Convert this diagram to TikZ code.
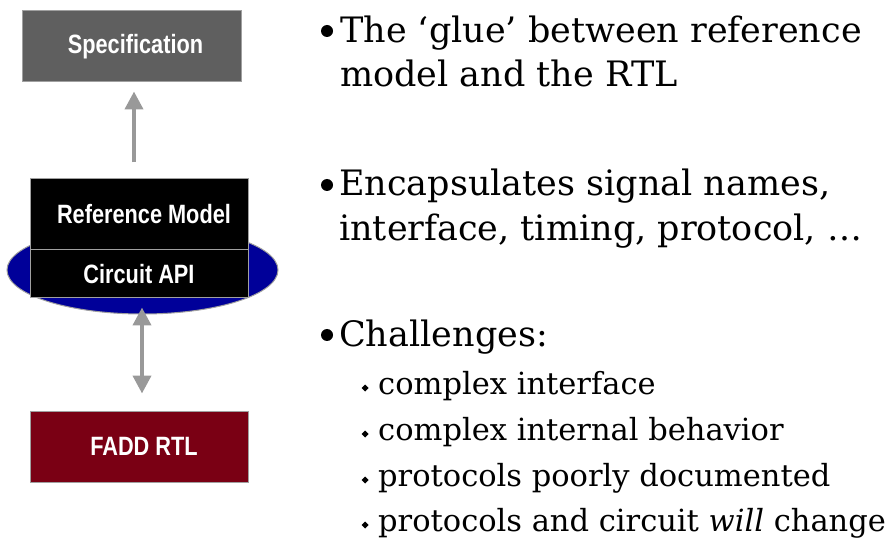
\documentclass[tikz,border=0pt]{standalone}
\usepackage{fontspec}
\setmainfont{DejaVu Serif}
\newfontfamily\boxfont[FakeStretch=0.82]{Liberation Sans}
\usetikzlibrary{arrows.meta,shapes.geometric}

\definecolor{specgray}{HTML}{5F5F5F}
\definecolor{edgegray}{HTML}{A0A0A0}
\definecolor{arrowgray}{HTML}{999999}
\definecolor{apiblue}{HTML}{000099}
\definecolor{rtlred}{HTML}{7A0014}

\begin{document}
\begin{tikzpicture}[x=1pt,y=-1pt,
  blk/.style={draw=edgegray, line width=1pt, inner sep=0pt, text=white,
    font=\boxfont\bfseries\fontsize{26.5}{30}\selectfont},
  garrow/.style={draw=arrowgray, line width=4pt},
  mainline/.style={anchor=base west, inner sep=0pt, font=\fontsize{35}{40}\selectfont},
  subline/.style={anchor=base west, inner sep=0pt, font=\fontsize{30.5}{36}\selectfont},
  dot/.style={fill=black},
]
\useasboundingbox (0,0) rectangle (895,540);

% left column: the verification stack
\node[blk, fill=specgray, minimum width=219pt, minimum height=71pt] (spec) at (131.5,46.5) {\hspace*{8pt}Specification};

\node[ellipse, draw=edgegray, line width=1pt, fill=apiblue, inner sep=0pt,
      minimum width=271pt, minimum height=88pt] (bus) at (142.5,270) {};

\node[blk, fill=black, minimum width=218pt, minimum height=71pt] (refm) at (139,214.5) {\hspace*{10pt}Reference Model};
\node[blk, fill=black, minimum width=218pt, minimum height=48pt] (api) at (139,274) {Circuit API};

\node[blk, fill=rtlred, minimum width=218pt, minimum height=71pt] (rtl) at (139,446.5) {\hspace*{10pt}FADD RTL};

% connectors
\draw[garrow, -{Triangle[length=18pt,width=18pt]}]
  ([xshift=-5pt,yshift=16pt]refm.north) -- ([xshift=2.5pt,yshift=-9pt]spec.south);
\draw[garrow, {Triangle[length=18pt,width=18pt]}-{Triangle[length=18pt,width=18pt]}]
  ([xshift=-0.5pt,yshift=7pt]bus.south) -- ([xshift=3pt,yshift=17pt]rtl.north);

% right column: bullet list
\fill[dot] (327,31) circle (6pt);
\node[mainline] (l1) at (340,43) {The ‘glue’ between reference};
\node[mainline] (l2) at (340,87) {model and the RTL};

\fill[dot] (327,185) circle (6pt);
\node[mainline] (l3) at (339,196) {Encapsulates signal names,};
\node[mainline] (l4) at (339,241) {interface, timing, protocol, …};

\fill[dot] (327,335) circle (6pt);
\node[mainline] (l5) at (339,347) {Challenges:};

\foreach \y/\txt [count=\i] in {394/{complex interface},
                                 440/{complex internal behavior},
                                 486/{protocols poorly documented},
                                 531/{protocols and circuit \textit{will} change}} {
  \fill[dot] (365,\y-9.5) -- (368.5,\y-6) -- (365,\y-2.5) -- (361.5,\y-6) -- cycle;
  \node[subline] (s\i) at (378,\y) {\txt};
}
\end{tikzpicture}
\end{document}
